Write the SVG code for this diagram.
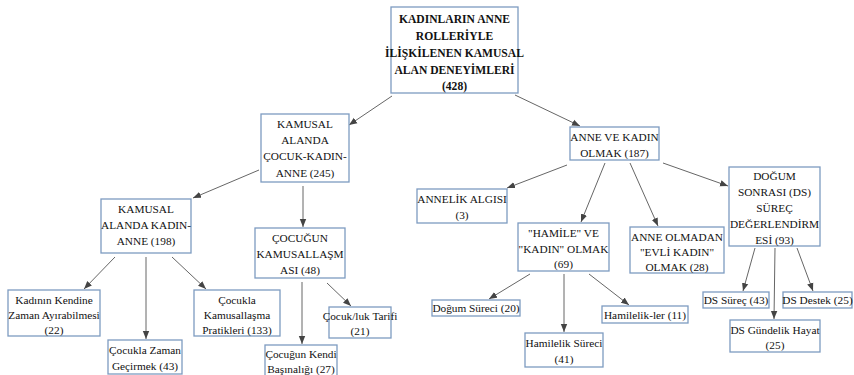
<svg xmlns="http://www.w3.org/2000/svg" width="854" height="375" viewBox="0 0 854 375">
<style>
.b{fill:#fff;stroke:#7d9bc1;stroke-width:1.3}
text{font-family:"Liberation Serif","Times New Roman",serif;font-size:11.3px;fill:#111;text-anchor:middle}
.r{font-weight:bold;font-size:11.6px}
.c line{stroke:#666;stroke-width:1;marker-end:url(#a)}
</style>
<defs><marker id="a" viewBox="0 0 10 10" refX="10" refY="5" markerWidth="8" markerHeight="8" markerUnits="userSpaceOnUse" orient="auto"><path d="M0,1 L10,5 L0,9 Z" fill="#444"/></marker></defs>
<g class="c">
<line x1="392" y1="96" x2="349" y2="125"/>
<line x1="515" y1="95" x2="580" y2="126"/>
<line x1="259" y1="170" x2="193" y2="198"/>
<line x1="303" y1="186" x2="303" y2="227"/>
<line x1="115" y1="257" x2="84" y2="289"/>
<line x1="146" y1="257" x2="146" y2="339"/>
<line x1="172" y1="257" x2="206" y2="289"/>
<line x1="302" y1="282" x2="302" y2="344"/>
<line x1="327" y1="283" x2="351" y2="306"/>
<line x1="567" y1="165" x2="507" y2="188"/>
<line x1="605" y1="163" x2="581" y2="222"/>
<line x1="630" y1="163" x2="658" y2="226"/>
<line x1="663" y1="163" x2="728" y2="186"/>
<line x1="530" y1="274" x2="489" y2="299"/>
<line x1="564" y1="274" x2="564" y2="332"/>
<line x1="589" y1="274" x2="629" y2="305"/>
<line x1="755" y1="248" x2="743" y2="291"/>
<line x1="775" y1="248" x2="774" y2="319"/>
<line x1="797" y1="248" x2="813" y2="291"/>
</g>
<g id="root"><rect class="b" x="391" y="7" width="127" height="86"/>
<text class="r" x="454.5" y="23">KADINLARIN ANNE</text><text class="r" x="454.5" y="40">ROLLERİYLE</text><text class="r" x="454.5" y="57">İLİŞKİLENEN KAMUSAL</text><text class="r" x="454.5" y="74">ALAN DENEYİMLERİ</text><text class="r" x="454.5" y="90">(428)</text></g>
<g id="n245"><rect class="b" x="261" y="114" width="88" height="68"/>
<text x="305" y="128">KAMUSAL</text><text x="305" y="144">ALANDA</text><text x="305" y="160">ÇOCUK-KADIN-</text><text x="305" y="177">ANNE (245)</text></g>
<g id="n187"><rect class="b" x="570" y="127" width="89" height="33"/>
<text x="614.5" y="141">ANNE VE KADIN</text><text x="614.5" y="157">OLMAK (187)</text></g>
<g id="n198"><rect class="b" x="101" y="199" width="90" height="54"/>
<text x="146" y="213">KAMUSAL</text><text x="146" y="229">ALANDA KADIN-</text><text x="146" y="245">ANNE (198)</text></g>
<g id="n48"><rect class="b" x="255" y="228" width="90" height="50"/>
<text x="300" y="242">ÇOCUĞUN</text><text x="300" y="258">KAMUSALLAŞM</text><text x="300" y="274">ASI (48)</text></g>
<g id="n22"><rect class="b" x="8" y="290" width="92" height="46"/>
<text x="54" y="304">Kadının Kendine</text><text x="54" y="319">Zaman Ayırabilmesi</text><text x="54" y="334">(22)</text></g>
<g id="n43"><rect class="b" x="108" y="340" width="74" height="34"/>
<text x="145" y="354">Çocukla Zaman</text><text x="145" y="370">Geçirmek (43)</text></g>
<g id="n133"><rect class="b" x="194" y="290" width="86" height="46"/>
<text x="237" y="304">Çocukla</text><text x="237" y="319">Kamusallaşma</text><text x="237" y="334">Pratikleri (133)</text></g>
<g id="n27"><rect class="b" x="265" y="345" width="72" height="34"/>
<text x="301" y="358">Çocuğun Kendi</text><text x="301" y="373">Başınalığı (27)</text></g>
<g id="n21"><rect class="b" x="329" y="307" width="62" height="31"/>
<text x="360" y="320">Çocuk/luk Tarifi</text><text x="360" y="335">(21)</text></g>
<g id="n3"><rect class="b" x="417" y="189" width="90" height="34"/>
<text x="462" y="203">ANNELİK ALGISI</text><text x="462" y="219">(3)</text></g>
<g id="n69"><rect class="b" x="518" y="223" width="91" height="48"/>
<text x="563.5" y="237">"HAMİLE" VE</text><text x="563.5" y="253">"KADIN" OLMAK</text><text x="563.5" y="268">(69)</text></g>
<g id="n28"><rect class="b" x="630" y="227" width="94" height="46"/>
<text x="677" y="241">ANNE OLMADAN</text><text x="677" y="256">"EVLİ KADIN"</text><text x="677" y="271">OLMAK (28)</text></g>
<g id="n93"><rect class="b" x="729" y="167" width="91" height="79"/>
<text x="774.5" y="180">DOĞUM</text><text x="774.5" y="196">SONRASI (DS)</text><text x="774.5" y="212">SÜREÇ</text><text x="774.5" y="228">DEĞERLENDİRM</text><text x="774.5" y="244">ESİ (93)</text></g>
<g id="n20"><rect class="b" x="432" y="300" width="88" height="16"/>
<text x="476" y="312">Doğum Süreci (20)</text></g>
<g id="n41"><rect class="b" x="525" y="333" width="78" height="34"/>
<text x="564" y="347">Hamilelik Süreci</text><text x="564" y="363">(41)</text></g>
<g id="n11"><rect class="b" x="602" y="306" width="86" height="17"/>
<text x="645" y="319">Hamilelik-ler (11)</text></g>
<g id="ds43"><rect class="b" x="703" y="292" width="66" height="16"/>
<text x="736" y="304">DS Süreç (43)</text></g>
<g id="ds25a"><rect class="b" x="783" y="292" width="69" height="16"/>
<text x="817.5" y="304">DS Destek (25)</text></g>
<g id="ds25b"><rect class="b" x="730" y="320" width="90" height="32"/>
<text x="775" y="334">DS Gündelik Hayat</text><text x="775" y="349">(25)</text></g>
</svg>
